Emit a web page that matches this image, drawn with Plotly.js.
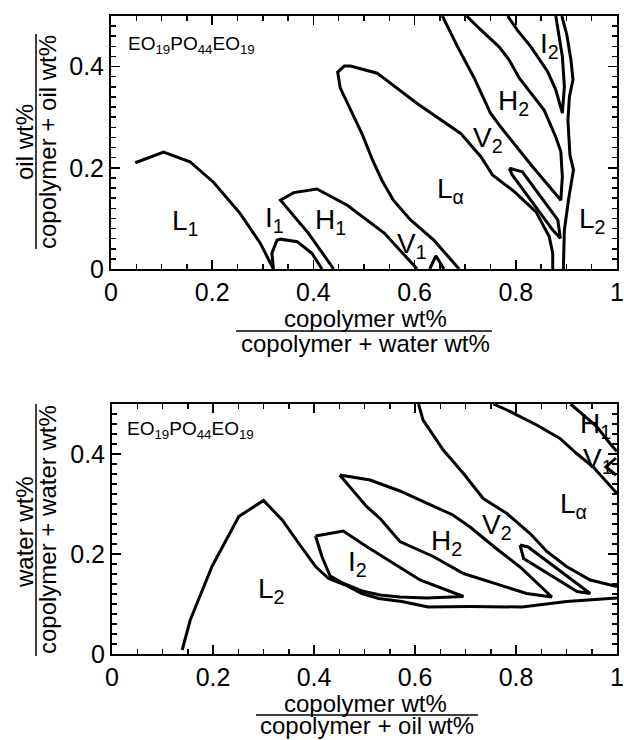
<!DOCTYPE html>
<html>
<head>
<meta charset="utf-8">
<script src="https://cdn.plot.ly/plotly-3.0.1.min.js"></script>
<style>html,body{margin:0;padding:0;background:#fff;}#chart{width:624px;height:740px;}</style>
</head>
<body>
<div id="chart"></div>
<script>
// ---------- TOP PANEL DATA (x = copolymer/(copolymer+water), y = oil/(copolymer+oil)) ----------
const topL1_x = [0.048, 0.104, 0.156, 0.203, 0.255, 0.295, 0.321];
const topL1_y = [0.210, 0.231, 0.212, 0.171, 0.110, 0.051, 0.0];

const topI1_x = [0.321, 0.318, 0.328, 0.335, 0.368, 0.397, 0.417];
const topI1_y = [0.0, 0.031, 0.057, 0.059, 0.054, 0.031, 0.0];

const topH1_x = [0.440, 0.390, 0.335, 0.361, 0.407, 0.467, 0.540, 0.605];
const topH1_y = [0.0, 0.071, 0.136, 0.151, 0.158, 0.126, 0.071, 0.0];

const topV1_x = [0.630, 0.642, 0.658];
const topV1_y = [0.0, 0.026, 0.0];

const topLa_x = [0.688, 0.638, 0.592, 0.558, 0.535, 0.517, 0.497, 0.473, 0.453, 0.448, 0.461, 0.473, 0.526, 0.605, 0.691, 0.731, 0.754, 0.797, 0.840, 0.866, 0.873, 0.873];
const topLa_y = [0.0, 0.057, 0.097, 0.136, 0.176, 0.215, 0.265, 0.314, 0.358, 0.389, 0.401, 0.401, 0.387, 0.327, 0.268, 0.222, 0.186, 0.153, 0.113, 0.064, 0.031, 0.0];

const topThin_x = [0.787, 0.813, 0.883, 0.888, 0.873, 0.793, 0.787];
const topThin_y = [0.199, 0.192, 0.097, 0.061, 0.077, 0.186, 0.199];

const topH2_x = [0.655, 0.685, 0.717, 0.750, 0.770, 0.830, 0.889, 0.892, 0.889, 0.879, 0.856, 0.830, 0.807, 0.787, 0.767, 0.724, 0.703];
const topH2_y = [0.5, 0.439, 0.379, 0.308, 0.281, 0.206, 0.136, 0.182, 0.232, 0.261, 0.314, 0.347, 0.377, 0.413, 0.439, 0.479, 0.5];

const topI2_x = [0.784, 0.803, 0.830, 0.863, 0.879, 0.892, 0.896, 0.892, 0.879];
const topI2_y = [0.5, 0.472, 0.439, 0.390, 0.354, 0.308, 0.360, 0.420, 0.5];

const topL2_x = [0.891, 0.901, 0.909, 0.913, 0.906, 0.903, 0.907, 0.914, 0.904, 0.896, 0.894];
const topL2_y = [0.5, 0.462, 0.413, 0.374, 0.341, 0.294, 0.225, 0.196, 0.136, 0.077, 0.0];

const topLabelText = ['L<sub>1</sub>', 'I<sub>1</sub>', 'H<sub>1</sub>', 'V<sub>1</sub>', 'L<sub>α</sub>', 'V<sub>2</sub>', 'H<sub>2</sub>', 'I<sub>2</sub>', 'L<sub>2</sub>'];
const topLabelX = [0.147, 0.323, 0.434, 0.595, 0.671, 0.746, 0.796, 0.867, 0.951];
const topLabelY = [0.091, 0.097, 0.093, 0.046, 0.156, 0.255, 0.330, 0.441, 0.095];

// ---------- BOTTOM PANEL DATA (x = copolymer/(copolymer+oil), y = water/(copolymer+water)) ----------
const botL2_x = [0.139, 0.155, 0.198, 0.251, 0.300, 0.337, 0.370, 0.403, 0.429, 0.462, 0.495, 0.528, 0.574, 0.626, 0.709, 0.812, 0.900, 1.0];
const botL2_y = [0.008, 0.068, 0.175, 0.275, 0.307, 0.268, 0.221, 0.175, 0.151, 0.138, 0.121, 0.111, 0.105, 0.094, 0.095, 0.094, 0.105, 0.112];

const botI2_x = [0.403, 0.458, 0.504, 0.557, 0.610, 0.696, 0.623, 0.570, 0.531, 0.495, 0.461, 0.432, 0.416, 0.403];
const botI2_y = [0.236, 0.246, 0.215, 0.181, 0.148, 0.115, 0.112, 0.114, 0.118, 0.126, 0.140, 0.156, 0.194, 0.236];

const botH2_x = [0.451, 0.511, 0.570, 0.610, 0.675, 0.709, 0.762, 0.808, 0.871, 0.821, 0.696, 0.636, 0.570, 0.531, 0.504, 0.451];
const botH2_y = [0.358, 0.348, 0.326, 0.308, 0.278, 0.254, 0.210, 0.174, 0.114, 0.121, 0.161, 0.195, 0.225, 0.271, 0.295, 0.358];

const botThin_x = [0.808, 0.824, 0.947, 0.921, 0.815, 0.808];
const botThin_y = [0.218, 0.214, 0.121, 0.125, 0.191, 0.218];

const botLaLow_x = [0.607, 0.616, 0.656, 0.696, 0.735, 0.782, 0.828, 0.861, 0.900, 0.947, 1.0];
const botLaLow_y = [0.5, 0.468, 0.408, 0.361, 0.311, 0.281, 0.241, 0.205, 0.175, 0.148, 0.135];

const botLaUp_x = [0.755, 0.782, 0.841, 0.887, 0.920, 0.953, 1.0];
const botLaUp_y = [0.5, 0.488, 0.458, 0.431, 0.401, 0.374, 0.321];

const botH1_x = [0.908, 0.933, 0.960, 0.986, 1.0];
const botH1_y = [0.5, 0.478, 0.455, 0.421, 0.405];

const botV1_x = [0.998, 0.978, 0.998];
const botV1_y = [0.392, 0.374, 0.358];

const botLabelText = ['L<sub>2</sub>', 'I<sub>2</sub>', 'H<sub>2</sub>', 'V<sub>2</sub>', 'L<sub>α</sub>', 'H<sub>1</sub>', 'V<sub>1</sub>'];
const botLabelX = [0.314, 0.487, 0.663, 0.762, 0.913, 0.958, 0.962];
const botLabelY = [0.128, 0.182, 0.224, 0.256, 0.297, 0.457, 0.388];

const compoundLabel = 'EO<sub>19</sub>PO<sub>44</sub>EO<sub>19</sub>';
const xTickVals = [0, 0.2, 0.4, 0.6, 0.8, 1];
const xTickText = ['0', '0.2', '0.4', '0.6', '0.8', '1'];
const yTickVals = [0, 0.2, 0.4];
const yTickText = ['0', '0.2', '0.4'];

// ---------- BUILD ----------
const FONT = 'Liberation Sans, Arial, Helvetica, sans-serif';
const W = 624, H = 740;
const px = v => v / W;
const py = v => 1 - v / H;

function line(x, y, xa, ya) {
  return {x: x, y: y, xaxis: xa, yaxis: ya, type: 'scatter', mode: 'lines',
          line: {color: '#000', width: 3, shape: 'linear'}, hoverinfo: 'skip', showlegend: false};
}

const traces = [
  line(topL1_x, topL1_y, 'x', 'y'),
  line(topI1_x, topI1_y, 'x', 'y'),
  line(topH1_x, topH1_y, 'x', 'y'),
  line(topV1_x, topV1_y, 'x', 'y'),
  line(topLa_x, topLa_y, 'x', 'y'),
  line(topThin_x, topThin_y, 'x', 'y'),
  line(topH2_x, topH2_y, 'x', 'y'),
  line(topI2_x, topI2_y, 'x', 'y'),
  line(topL2_x, topL2_y, 'x', 'y'),
  line(botL2_x, botL2_y, 'x2', 'y2'),
  line(botI2_x, botI2_y, 'x2', 'y2'),
  line(botH2_x, botH2_y, 'x2', 'y2'),
  line(botThin_x, botThin_y, 'x2', 'y2'),
  line(botLaLow_x, botLaLow_y, 'x2', 'y2'),
  line(botLaUp_x, botLaUp_y, 'x2', 'y2'),
  line(botH1_x, botH1_y, 'x2', 'y2'),
  line(botV1_x, botV1_y, 'x2', 'y2')
];

function axis(domain, range, tv, tt, minorDtick, anchor) {
  return {
    domain: domain, range: range, anchor: anchor,
    showline: true, linecolor: '#000', linewidth: 2, mirror: 'allticks',
    ticks: 'inside', ticklen: 9, tickwidth: 1.5, tickcolor: '#000',
    tickvals: tv, ticktext: tt,
    tickfont: {family: FONT, size: 25, color: '#000'},
    minor: {dtick: minorDtick, tick0: 0, ticks: 'inside', ticklen: 5, tickwidth: 1.5, tickcolor: '#000', showgrid: false},
    showgrid: false, zeroline: false, fixedrange: true
  };
}

const annotations = [];
function addLabels(texts, xs, ys, xr, yr) {
  for (let i = 0; i < texts.length; i++) {
    annotations.push({text: texts[i], x: xs[i], y: ys[i], xref: xr, yref: yr, showarrow: false,
      xanchor: 'center', yanchor: 'middle', font: {family: FONT, size: 28, color: '#000'}});
  }
}
addLabels(topLabelText, topLabelX, topLabelY, 'x', 'y');
addLabels(botLabelText, botLabelX, botLabelY, 'x2', 'y2');

annotations.push({text: compoundLabel, x: 0.030, y: 0.443, xref: 'x', yref: 'y', showarrow: false,
  xanchor: 'left', yanchor: 'middle', font: {family: FONT, size: 19, color: '#000'}});
annotations.push({text: compoundLabel, x: 0.026, y: 0.448, xref: 'x2', yref: 'y2', showarrow: false,
  xanchor: 'left', yanchor: 'middle', font: {family: FONT, size: 19, color: '#000'}});

function ann(text, x, y, angle) {
  annotations.push({text: text, x: px(x), y: py(y), xref: 'paper', yref: 'paper', showarrow: false,
    xanchor: 'center', yanchor: 'middle', textangle: angle || 0,
    font: {family: FONT, size: 24, color: '#000'}});
}
// axis titles as fractions
ann('copolymer wt%', 365, 318);
ann('copolymer + water wt%', 365, 343);
ann('copolymer wt%', 365, 703);
ann('copolymer + oil wt%', 367, 725);
ann('oil wt%', 24, 142, -90);
ann('copolymer + oil wt%', 47, 142, -90);
ann('water wt%', 24, 532, -90);
ann('copolymer + water wt%', 47, 530, -90);

const shapes = [
  {type: 'line', xref: 'paper', yref: 'paper', x0: px(236), x1: px(492), y0: py(331), y1: py(331), line: {color: '#000', width: 1.5}},
  {type: 'line', xref: 'paper', yref: 'paper', x0: px(256), x1: px(478), y0: py(715), y1: py(715), line: {color: '#000', width: 1.5}},
  {type: 'line', xref: 'paper', yref: 'paper', x0: px(36), x1: px(36), y0: py(34), y1: py(249), line: {color: '#000', width: 1.5}},
  {type: 'line', xref: 'paper', yref: 'paper', x0: px(36), x1: px(36), y0: py(404), y1: py(656), line: {color: '#000', width: 1.5}}
];

const layout = {
  width: W, height: H, autosize: false,
  margin: {l: 0, r: 0, t: 0, b: 0, pad: 0},
  paper_bgcolor: '#fff', plot_bgcolor: '#fff',
  showlegend: false,
  xaxis: axis([px(111), px(617)], [0, 1], xTickVals, xTickText, 0.05, 'y'),
  yaxis: axis([py(269), py(16)], [0, 0.5], yTickVals, yTickText, 0.02, 'x'),
  xaxis2: axis([px(112), px(617)], [0, 1], xTickVals, xTickText, 0.05, 'y2'),
  yaxis2: axis([py(654), py(404)], [0, 0.5], yTickVals, yTickText, 0.02, 'x2'),
  annotations: annotations,
  shapes: shapes
};

Plotly.newPlot('chart', traces, layout, {displayModeBar: false, staticPlot: true});
</script>
</body>
</html>
